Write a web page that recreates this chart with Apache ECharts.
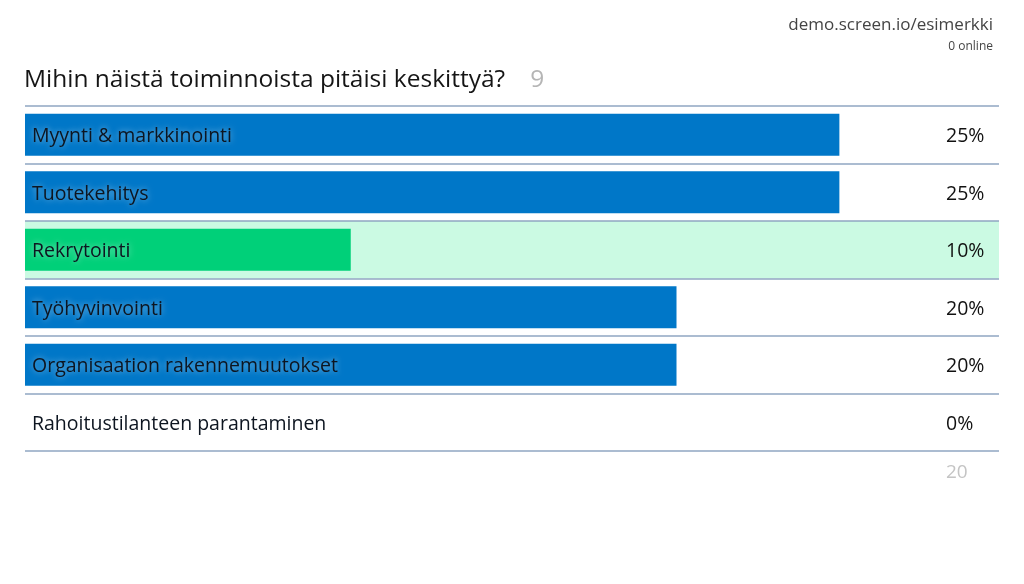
<!DOCTYPE html>
<html><head><meta charset="utf-8">
<script src="https://cdn.jsdelivr.net/npm/echarts@6/dist/echarts.min.js"></script>
<style>html,body{margin:0;padding:0;background:#fff}#c{width:1024px;height:584px}</style>
</head><body><div id="c"></div>
<script>
const categories = ["Myynti & markkinointi","Tuotekehitys","Rekrytointi","Työhyvinvointi","Organisaation rakennemuutokset","Rahoitustilanteen parantaminen"];
const values = [25, 25, 10, 20, 20, 0];
const highlightIndex = 2;
const titleText = "Mihin näistä toiminnoista pitäisi keskittyä?";
const answerCount = "9";
const totalText = "20";
const siteText = "demo.screen.io/esimerkki";
const onlineText = "0 online";

const AX_MAX = 29.9;
const FONT = "'Open Sans', 'Noto Sans', sans-serif";
const chart = echarts.init(document.getElementById('c'));
chart.setOption({
  animation: false,
  textStyle: {fontFamily: FONT},
  title: [
    {left: 24, top: 68, padding: 0, text: '{a|' + titleText + '}{b|' + answerCount + '}',
     textStyle: {rich: {a: {fontSize: 24.5, color: '#151515', fontFamily: FONT, fontWeight: 'normal'},
       b: {fontSize: 24.5, color: '#b5b5b5', fontFamily: FONT, fontWeight: 'normal', padding: [0, 0, 0, 25]}}}},
    {right: 31, top: 17, padding: 0, text: siteText, textStyle: {fontSize: 17, color: '#444', fontWeight: 'normal', fontFamily: FONT}},
    {right: 31, top: 41, padding: 0, text: onlineText, textStyle: {fontSize: 12, color: '#444', fontWeight: 'normal', fontFamily: FONT}},
    {left: 946, top: 463, padding: 0, text: totalText, textStyle: {fontSize: 19, color: '#c4c4c4', fontWeight: 'normal', fontFamily: FONT}}
  ],
  grid: {left: 25, right: 25, top: 106, bottom: 133},
  xAxis: {type: 'value', min: 0, max: AX_MAX, show: false},
  yAxis: [
    {type: 'category', data: categories, inverse: true, position: 'left',
     axisLine: {show: false}, axisTick: {show: false},
     splitLine: {show: true, lineStyle: {color: '#8fa6c2', width: 1.5}},
     axisLabel: {inside: true, margin: 7, formatter: v => '{t|' + v + '}',
       rich: {t: {color: '#0d1520', fontSize: 19.5, fontFamily: FONT, padding: [4, 0, 0, 0],
         textShadowColor: 'rgba(255,255,255,0.55)', textShadowBlur: 6}}},
     z: 10},
    {type: 'category', data: values.map(v => v + '%'), inverse: true, position: 'right',
     axisLine: {show: false}, axisTick: {show: false}, splitLine: {show: false},
     axisLabel: {inside: true, margin: 53, align: 'left', formatter: v => '{t|' + v + '}',
       rich: {t: {color: '#111', fontSize: 19.5, fontFamily: FONT, padding: [4, 0, 0, 0]}}},
     z: 10},
    {type: 'category', data: categories, inverse: true, show: false}
  ],
  series: [
    {type: 'bar', yAxisIndex: 2, barWidth: '100%', silent: true, z: 1,
     data: categories.map((c, i) => i === highlightIndex ? {value: AX_MAX, itemStyle: {color: '#cbfae3'}} : 0)},
    {type: 'bar', yAxisIndex: 0, barWidth: '73%', z: 2,
     data: values.map((v, i) => ({value: v, itemStyle: {color: i === highlightIndex ? '#00d079' : '#0077c8'}}))}
  ]
});
</script></body></html>
